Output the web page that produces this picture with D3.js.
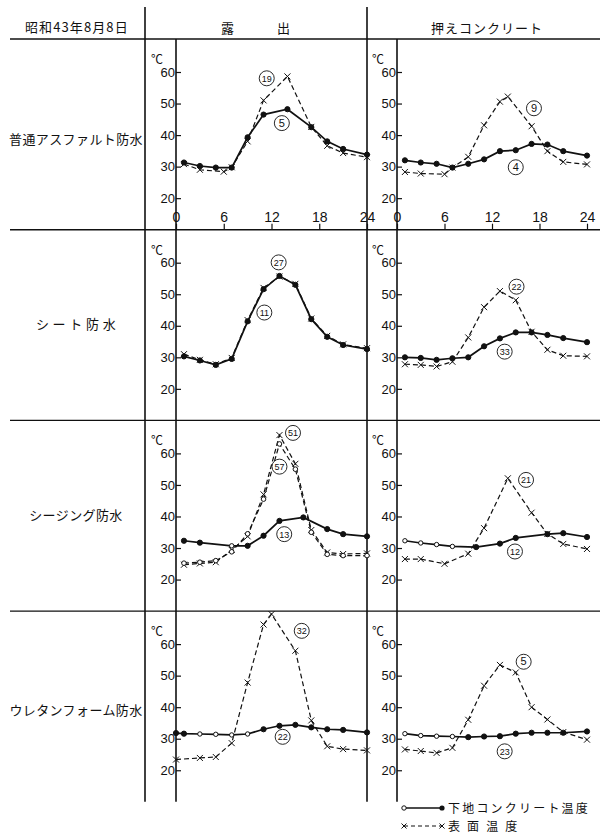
<!DOCTYPE html>
<html>
<head>
<meta charset="utf-8">
<script src="https://cdn.jsdelivr.net/npm/d3@7"></script>
<style>
  body { margin: 0; background: #fff; }
  svg { display: block; }
  text { font-family: 'Noto Sans CJK JP', sans-serif; fill: #111; }
  .num { font-family: 'Liberation Sans', Arial, sans-serif; }
</style>
</head>
<body>
<svg id="chart" width="600" height="835"></svg>
<script>
// labels
const dateLabel = '昭和43年8月8日'
const colLabels = ['露　　　出', '押えコンクリート']
const rowLabels = ['普通アスファルト防水', 'シ ー ト 防 水', 'シージング防水', 'ウレタンフォーム防水']
const legendLabels = ['下地コンクリート温度', '表 面 温 度']
const yTicks = [20, 30, 40, 50, 60]
const xTicks = [0, 6, 12, 18, 24]

// [hour, °C] — 下地 = base concrete (solid), 表面 = surface (dashed)
const asphaltExposedBase = [[1, 31.3], [3, 30.2], [5, 29.7], [7, 29.7], [9, 39.3], [11, 46.5], [14, 48.2], [17, 42.5], [19, 38.0], [21, 35.6], [24, 33.8]]
const asphaltExposedSurface = [[1, 30.8], [3, 29.0], [6, 28.4], [7, 29.8], [9, 38.0], [11, 51.0], [14, 58.6], [17, 42.6], [19, 36.6], [21, 34.3], [24, 33.0]]
const asphaltCoveredBase = [[1, 32.0], [3, 31.3], [5, 30.9], [7, 29.7], [9, 30.9], [11, 32.3], [13, 34.9], [15, 35.2], [17, 37.2], [19, 37.0], [21, 34.9], [24, 33.5]]
const asphaltCoveredSurface = [[1, 28.3], [3, 27.8], [6, 27.6], [7, 29.7], [9, 33.1], [11, 43.1], [13, 50.6], [14, 52.2], [17, 42.8], [19, 34.9], [21, 31.5], [24, 30.7]]

const sheetExposedBase = [[1, 30.3], [3, 29.0], [5, 27.6], [7, 29.5], [9, 41.4], [11, 51.6], [13, 55.8], [15, 53.0], [17, 42.1], [19, 36.5], [21, 33.9], [24, 32.6]]
const sheetExposedSurface = [[1, 31.0], [3, 29.2], [5, 27.8], [7, 29.8], [9, 41.8], [11, 52.0], [13, 55.6], [15, 53.3], [17, 42.3], [19, 36.8], [21, 34.1], [24, 32.9]]
const sheetCoveredBase = [[1, 30.0], [3, 29.8], [5, 29.2], [7, 29.7], [9, 30.0], [11, 33.5], [13, 36.0], [15, 37.9], [17, 37.9], [19, 37.1], [21, 36.1], [24, 34.8]]
const sheetCoveredSurface = [[1, 27.8], [3, 27.6], [5, 27.1], [7, 28.6], [9, 36.3], [11, 45.9], [13, 51.0], [15, 48.1], [17, 38.1], [19, 32.4], [21, 30.5], [24, 30.3]]

const sheathingExposedBase = [[1, 32.3], [3, 31.7], [7, 30.7], [9, 30.7], [11, 33.9], [13, 38.6], [16, 39.7], [19, 36.0], [21, 34.4], [24, 33.7]]
const sheathingExposedSurfaceA = [[1, 24.7], [3, 25.1], [5, 25.5], [7, 29.4], [9, 33.7], [11, 47.0], [13, 65.8], [15, 56.7], [17, 35.7], [19, 28.6], [21, 28.1], [24, 28.3]]
const sheathingExposedSurfaceB = [[1, 25.2], [3, 25.5], [5, 26.0], [7, 28.8], [9, 34.5], [11, 45.5], [13, 63.0], [15, 55.0], [17, 35.0], [19, 28.0], [21, 27.6], [24, 27.6]]
const sheathingCoveredBase = [[1, 32.3], [3, 31.6], [5, 31.1], [7, 30.5], [10, 30.3], [13, 31.4], [15, 33.2], [19, 34.4], [21, 34.7], [24, 33.5]]
const sheathingCoveredSurface = [[1, 26.5], [3, 26.5], [6, 25.0], [9, 28.2], [11, 36.3], [14, 52.1], [17, 41.2], [19, 34.5], [21, 31.3], [24, 29.7]]

const urethaneExposedBase = [[0, 31.8], [1, 31.6], [3, 31.5], [5, 31.4], [7, 31.2], [9, 31.5], [11, 33.0], [13, 34.1], [15, 34.4], [17, 33.6], [19, 33.0], [21, 32.8], [24, 32.0]]
const urethaneExposedSurface = [[0, 23.4], [3, 23.9], [5, 24.2], [7, 28.6], [9, 47.8], [11, 66.2], [12, 69.5], [15, 57.9], [17, 35.8], [19, 27.6], [21, 26.7], [24, 26.3]]
const urethaneCoveredBase = [[1, 31.6], [3, 31.0], [5, 30.8], [7, 30.7], [9, 30.5], [11, 30.7], [13, 30.8], [15, 31.6], [17, 31.9], [19, 31.9], [21, 31.9], [24, 32.3]]
const urethaneCoveredSurface = [[1, 26.6], [3, 26.1], [5, 25.5], [7, 27.1], [9, 36.0], [11, 46.8], [13, 53.4], [15, 51.0], [17, 40.0], [19, 36.1], [21, 32.1], [24, 29.7]]

// circled numbers [hour, °C, text]
const asphaltExposedNotes = [[11.4, 58.0, '19'], [13.3, 43.8, '5']]
const asphaltCoveredNotes = [[17.3, 48.5, '9'], [15.0, 29.8, '4']]
const sheetExposedNotes = [[12.9, 60.1, '27'], [11.1, 44.2, '11']]
const sheetCoveredNotes = [[15.1, 52.4, '22'], [13.6, 31.8, '33']]
const sheathingExposedNotes = [[14.7, 66.5, '51'], [13.0, 55.8, '57'], [13.6, 34.4, '13']]
const sheathingCoveredNotes = [[16.3, 51.6, '21'], [14.9, 28.9, '12']]
const urethaneExposedNotes = [[15.8, 64.2, '32'], [13.4, 30.6, '22']]
const urethaneCoveredNotes = [[16.0, 54.4, '5'], [13.6, 26.0, '23']]

const panels = [
  { row: 0, col: 0, base: asphaltExposedBase, surface: [asphaltExposedSurface], notes: asphaltExposedNotes, open: [] },
  { row: 0, col: 1, base: asphaltCoveredBase, surface: [asphaltCoveredSurface], notes: asphaltCoveredNotes, open: [] },
  { row: 1, col: 0, base: sheetExposedBase, surface: [sheetExposedSurface], notes: sheetExposedNotes, open: [] },
  { row: 1, col: 1, base: sheetCoveredBase, surface: [sheetCoveredSurface], notes: sheetCoveredNotes, open: [] },
  { row: 2, col: 0, base: sheathingExposedBase, surface: [sheathingExposedSurfaceA, sheathingExposedSurfaceB], notes: sheathingExposedNotes, open: [7] },
  { row: 2, col: 1, base: sheathingCoveredBase, surface: [sheathingCoveredSurface], notes: sheathingCoveredNotes, open: [1, 3, 5, 7] },
  { row: 3, col: 0, base: urethaneExposedBase, surface: [urethaneExposedSurface], notes: urethaneExposedNotes, open: [3, 5, 7, 9] },
  { row: 3, col: 1, base: urethaneCoveredBase, surface: [urethaneCoveredSurface], notes: urethaneCoveredNotes, open: [1, 3, 5, 7] },
]

// layout
const headerY = 39
const rowHeight = 190.7
const rowTop = (i) => headerY + i * rowHeight
const colRange = [[176, 367], [397, 587]]
const bottom = rowTop(4)

const svg = d3.select('#chart')
const ink = '#111'

const hline = (x1, x2, y, w = 1.4) =>
  svg.append('line').attr('x1', x1).attr('x2', x2).attr('y1', y).attr('y2', y)
    .attr('stroke', ink).attr('stroke-width', w)
const vline = (x, y1, y2, w = 1.4) =>
  svg.append('line').attr('x1', x).attr('x2', x).attr('y1', y1).attr('y2', y2)
    .attr('stroke', ink).attr('stroke-width', w)

// frame
hline(10, 600, headerY, 1.6)
;[1, 2, 3].forEach((i) => hline(10, 600, rowTop(i), 1.4))
vline(145, 7, bottom, 1.6)
vline(367, 7, bottom, 1.6)

// header
svg.append('text').attr('x', 25).attr('y', 32).attr('font-size', 13)
  .attr('letter-spacing', 1.1).text(dateLabel)
svg.append('text').attr('x', 256).attr('y', 33).attr('font-size', 13)
  .attr('text-anchor', 'middle').attr('letter-spacing', 1).text(colLabels[0])
svg.append('text').attr('x', 487).attr('y', 33).attr('font-size', 13)
  .attr('text-anchor', 'middle').attr('letter-spacing', 1).text(colLabels[1])

// row labels
const rowLabelY = [139, 324, 515, 710]
rowLabels.forEach((t, i) => {
  svg.append('text').attr('x', 76).attr('y', rowLabelY[i] + 5).attr('font-size', 13)
    .attr('text-anchor', 'middle').attr('letter-spacing', 0.4).text(t)
})

function xMark(g, cx, cy, s = 3) {
  g.append('path')
    .attr('d', `M${cx - s},${cy - s}L${cx + s},${cy + s}M${cx - s},${cy + s}L${cx + s},${cy - s}`)
    .attr('stroke', ink).attr('stroke-width', 1).attr('fill', 'none')
}

function drawPanel(p) {
  const top = rowTop(p.row)
  const [x0, x1] = colRange[p.col]
  const x = d3.scaleLinear().domain([0, 24]).range([x0, x1])
  const y = d3.scaleLinear().domain([10, 60]).range([top + rowHeight, top + 33])
  const g = svg.append('g')

  // axis line
  vline(x0, top, top + rowHeight, 1.6)

  const yAxis = g.append('g')
    .attr('transform', `translate(${x0},0)`)
    .call(d3.axisLeft(y).tickValues(yTicks).tickSize(-5).tickPadding(1).tickSizeOuter(0))
  yAxis.select('.domain').remove()
  yAxis.selectAll('line').attr('stroke', ink).attr('stroke-width', 1.2)
  yAxis.selectAll('text').attr('class', 'num').attr('font-size', 13).attr('fill', ink)
  yAxis.attr('font-family', null).attr('font-size', null)

  g.append('text').attr('x', x0 - 19).attr('y', top + 25).attr('font-size', 12)
    .attr('text-anchor', 'middle').text('℃')

  if (p.row === 0) {
    const xAxis = g.append('g')
      .attr('transform', `translate(0,${top + rowHeight})`)
      .call(d3.axisTop(x).tickValues(xTicks).tickSize(6).tickPadding(2).tickSizeOuter(0))
    xAxis.select('.domain').remove()
    xAxis.selectAll('line').attr('stroke', ink).attr('stroke-width', 1.2)
    xAxis.selectAll('text').attr('class', 'num').attr('font-size', 14).attr('fill', ink)
    xAxis.attr('font-family', null).attr('font-size', null)
  }

  const line = d3.line().x((d) => x(d[0])).y((d) => y(d[1]))

  // surface (dashed)
  p.surface.forEach((s, k) => {
    g.append('path').datum(s).attr('d', line).attr('fill', 'none')
      .attr('stroke', ink).attr('stroke-width', 1.2).attr('stroke-dasharray', '5,3')
    s.forEach((d) => {
      if (k === 0) xMark(g, x(d[0]), y(d[1]))
      else g.append('circle').attr('cx', x(d[0])).attr('cy', y(d[1])).attr('r', 2.3)
        .attr('fill', '#fff').attr('stroke', ink).attr('stroke-width', 1)
    })
  })

  // base (solid)
  g.append('path').datum(p.base).attr('d', line).attr('fill', 'none')
    .attr('stroke', ink).attr('stroke-width', 1.7)
  g.selectAll('.dot').data(p.base).join('circle')
    .attr('cx', (d) => x(d[0])).attr('cy', (d) => y(d[1]))
    .attr('r', (d) => (p.open.includes(d[0]) ? 2.2 : 2.6))
    .attr('fill', (d) => (p.open.includes(d[0]) ? '#fff' : ink))
    .attr('stroke', ink).attr('stroke-width', 1)

  // circled numbers
  p.notes.forEach(([h, v, t]) => {
    g.append('circle').attr('cx', x(h)).attr('cy', y(v)).attr('r', 7.5)
      .attr('fill', '#fff').attr('stroke', ink).attr('stroke-width', 0.9)
    g.append('text').attr('class', 'num').attr('x', x(h)).attr('y', y(v) + 3.5)
      .attr('text-anchor', 'middle').attr('font-size', t.length > 1 ? 9 : 11).text(t)
  })
}

panels.forEach(drawPanel)

// legend
const lg = svg.append('g')
const legY = [808, 826]
lg.append('line').attr('x1', 404).attr('x2', 442).attr('y1', legY[0]).attr('y2', legY[0])
  .attr('stroke', ink).attr('stroke-width', 1.5)
lg.append('circle').attr('cx', 404).attr('cy', legY[0]).attr('r', 2.2)
  .attr('fill', '#fff').attr('stroke', ink)
lg.append('circle').attr('cx', 442).attr('cy', legY[0]).attr('r', 2.6).attr('fill', ink)
lg.append('line').attr('x1', 404).attr('x2', 442).attr('y1', legY[1]).attr('y2', legY[1])
  .attr('stroke', ink).attr('stroke-width', 1.2).attr('stroke-dasharray', '4,3')
xMark(lg, 404, legY[1], 2.5)
xMark(lg, 442, legY[1], 2.5)
lg.append('text').attr('x', 448).attr('y', legY[0] + 4.5).attr('font-size', 12)
  .attr('letter-spacing', 2.2).text(legendLabels[0])
lg.append('text').attr('x', 448).attr('y', legY[1] + 4.5).attr('font-size', 12)
  .attr('letter-spacing', 2.2).text(legendLabels[1])
</script>
</body>
</html>
